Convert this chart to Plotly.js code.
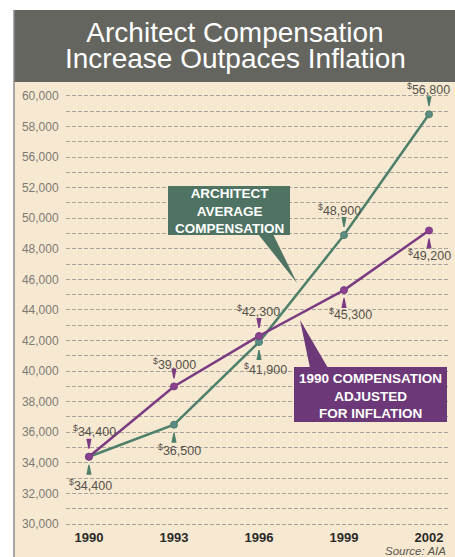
<!DOCTYPE html>
<html><head><meta charset="utf-8">
<script src="https://cdn.plot.ly/plotly-3.0.1.min.js"></script>
<style>html,body{margin:0;padding:0;background:#fff}#chart{width:455px;height:557px}</style>
</head><body><div id="chart"></div>
<script>
// ---- data ----
const years = [1990, 1993, 1996, 1999, 2002];
const yearLabels = ['1990', '1993', '1996', '1999', '2002'];
const architectAvg = [34400, 36500, 41900, 48900, 56800];
const adjusted1990 = [34400, 39000, 42300, 45300, 49200];
const yTickVals = [30000, 32000, 34000, 36000, 38000, 40000, 42000, 44000, 46000, 48000, 50000, 52000, 54000, 56000, 58000];
const yTickText = ['30,000', '32,000', '34,000', '36,000', '38,000', '40,000', '42,000', '44,000', '46,000', '48,000', '50,000', '52,000', '56,000', '58,000', '60,000'];
const titleLine1 = 'Architect Compensation';
const titleLine2 = 'Increase Outpaces Inflation';
const greenCallout = 'ARCHITECT<br>AVERAGE<br>COMPENSATION';
const purpleCallout = '1990 COMPENSATION<br>ADJUSTED<br>FOR INFLATION';

// ---- styling / placement ----
const W = 455, H = 557, L = 66, R = 450, T = 90, B = 528;
const px = v => (v - L) / (R - L);       // pixel x -> paper x
const py = v => (B - v) / (B - T);       // pixel y -> paper y
const GREEN = '#4e7f6b', GREEN_M = '#5b8d86', GREEN_BOX = '#4f7362';
const PURPLE = '#7a3b82', PURPLE_M = '#8b4190', PURPLE_BOX = '#6d3877';
const FONT = 'Liberation Sans, Arial, sans-serif';

// label offsets [xshift, yshift] (px, up positive)
const greenOff = [[2, -28], [6, -25], [7, -27], [-5, 25], [-1, 25]];
const purpleOff = [[6, 26], [1, 22], [0, 25], [6, -24], [0, -24]];

const traces = [
  {x: years, y: architectAvg, type: 'scatter', mode: 'lines+markers', name: 'Architect average compensation',
   line: {color: GREEN, width: 2.5}, marker: {color: GREEN_M, size: 7, line: {color: GREEN, width: 1}},
   hoverinfo: 'skip'},
  {x: years, y: adjusted1990, type: 'scatter', mode: 'lines+markers', name: '1990 compensation adjusted for inflation',
   line: {color: PURPLE, width: 2.5}, marker: {color: PURPLE_M, size: 7, line: {color: PURPLE, width: 1}},
   hoverinfo: 'skip'}
];

const annotations = [];
const shapes = [
  {type: 'rect', xref: 'paper', yref: 'paper', x0: px(14), x1: px(456), y0: py(558), y1: py(82),
   fillcolor: '#f7e9d1', line: {width: 0}, layer: 'below'},
  {type: 'rect', xref: 'paper', yref: 'paper', x0: px(14), x1: px(456), y0: py(82), y1: py(10),
   fillcolor: '#65655f', line: {width: 0}, layer: 'below'},
  {type: 'line', xref: 'paper', yref: 'paper', x0: px(14), x1: px(14), y0: py(10), y1: py(558),
   line: {color: '#8c8c8c', width: 1.5}, layer: 'below'},
  {type: 'rect', xref: 'paper', yref: 'paper', x0: px(168), x1: px(290), y0: py(235), y1: py(186),
   fillcolor: GREEN_BOX, line: {width: 0}, layer: 'above'},
  {type: 'path', xref: 'paper', yref: 'paper', layer: 'above',
   path: `M ${px(258)} ${py(234)} L ${px(273)} ${py(234)} L ${px(297)} ${py(283)} Z`,
   fillcolor: GREEN_BOX, line: {width: 0}},
  {type: 'rect', xref: 'paper', yref: 'paper', x0: px(294), x1: px(447), y0: py(422), y1: py(367),
   fillcolor: PURPLE_BOX, line: {width: 0}, layer: 'above'},
  {type: 'path', xref: 'paper', yref: 'paper', layer: 'above',
   path: `M ${px(300)} ${py(320)} L ${px(310)} ${py(368)} L ${px(328)} ${py(368)} Z`,
   fillcolor: PURPLE_BOX, line: {width: 0}}
];

function addLabels(vals, offs, color) {
  vals.forEach((v, i) => {
    const [xs, ys] = offs[i];
    annotations.push({x: years[i], y: v, xref: 'x', yref: 'y', showarrow: false,
      text: '<sup>$</sup>' + v.toLocaleString('en-US'), xshift: xs, yshift: ys,
      xanchor: 'center', yanchor: 'middle', font: {family: FONT, size: 12.5, color: '#55514b'}});
    const d = ys > 0 ? 1 : -1;  // pointer above (+1) or below (-1) the point
    shapes.push({type: 'path', xref: 'x', yref: 'y', xsizemode: 'pixel', ysizemode: 'pixel',
      xanchor: years[i], yanchor: v, layer: 'above',
      path: `M -2.6 ${d * 18} L 2.6 ${d * 18} L 0.6 ${d * 8} L -0.6 ${d * 8} Z`,
      fillcolor: color, line: {width: 0}});
  });
}
addLabels(architectAvg, greenOff, GREEN);
addLabels(adjusted1990, purpleOff, PURPLE);

annotations.push({x: px(229), y: py(211), xref: 'paper', yref: 'paper', showarrow: false,
  text: greenCallout, xanchor: 'center', yanchor: 'middle', align: 'center',
  font: {family: FONT, size: 13.5, color: '#ffffff', weight: 'bold'}});
annotations.push({x: px(370.5), y: py(396), xref: 'paper', yref: 'paper', showarrow: false,
  text: purpleCallout, xanchor: 'center', yanchor: 'middle', align: 'center',
  font: {family: FONT, size: 13.5, color: '#ffffff', weight: 'bold'}});

annotations.push({x: 235 / W, y: 1 - 58 / H, xref: 'paper', yref: 'container', showarrow: false,
  text: titleLine2, xanchor: 'center', yanchor: 'middle',
  font: {family: FONT, size: 28, color: '#ffffff'}});
annotations[annotations.length - 1].xref = 'paper';
annotations[annotations.length - 1].x = px(235);
annotations[annotations.length - 1].yref = 'paper';
annotations[annotations.length - 1].y = py(58);

annotations.push({x: px(448), y: py(551), xref: 'paper', yref: 'paper', showarrow: false,
  text: 'Source: AIA', xanchor: 'right', yanchor: 'middle',
  font: {family: FONT, size: 11.5, color: '#5a5650', style: 'italic'}});

const layout = {
  width: W, height: H,
  margin: {l: L, r: W - R, t: T, b: H - B, pad: 0},
  paper_bgcolor: '#ffffff', plot_bgcolor: 'rgba(0,0,0,0)',
  showlegend: false,
  title: {text: titleLine1, xref: 'container', yref: 'container',
    x: 235 / W, xanchor: 'center', y: 1 - 32 / H, yanchor: 'middle',
    font: {family: FONT, size: 28, color: '#ffffff'}},
  xaxis: {range: [1989.19, 2002.74], tickmode: 'array', tickvals: years, ticktext: yearLabels,
    showgrid: false, zeroline: false, showline: false, ticks: '',
    tickfont: {family: FONT, size: 13, color: '#2b2a28', weight: 'bold'}, fixedrange: true},
  yaxis: {range: [29738, 58392], tickmode: 'array', tickvals: yTickVals, ticktext: yTickText,
    showgrid: true, gridcolor: '#aaa59b', gridwidth: 1, griddash: '4px,2px',
    zeroline: false, showline: false, ticks: 'outside', ticklen: 4, tickcolor: 'rgba(0,0,0,0)',
    tickfont: {family: FONT, size: 12, color: '#7d7a74'},
    minor: {dtick: 1000, tick0: 0, showgrid: true, gridcolor: '#aaa59b', gridwidth: 1, griddash: '4px,2px'},
    fixedrange: true},
  shapes: shapes,
  annotations: annotations
};

Plotly.newPlot('chart', traces, layout, {displayModeBar: false, staticPlot: true});
</script>
</body></html>
